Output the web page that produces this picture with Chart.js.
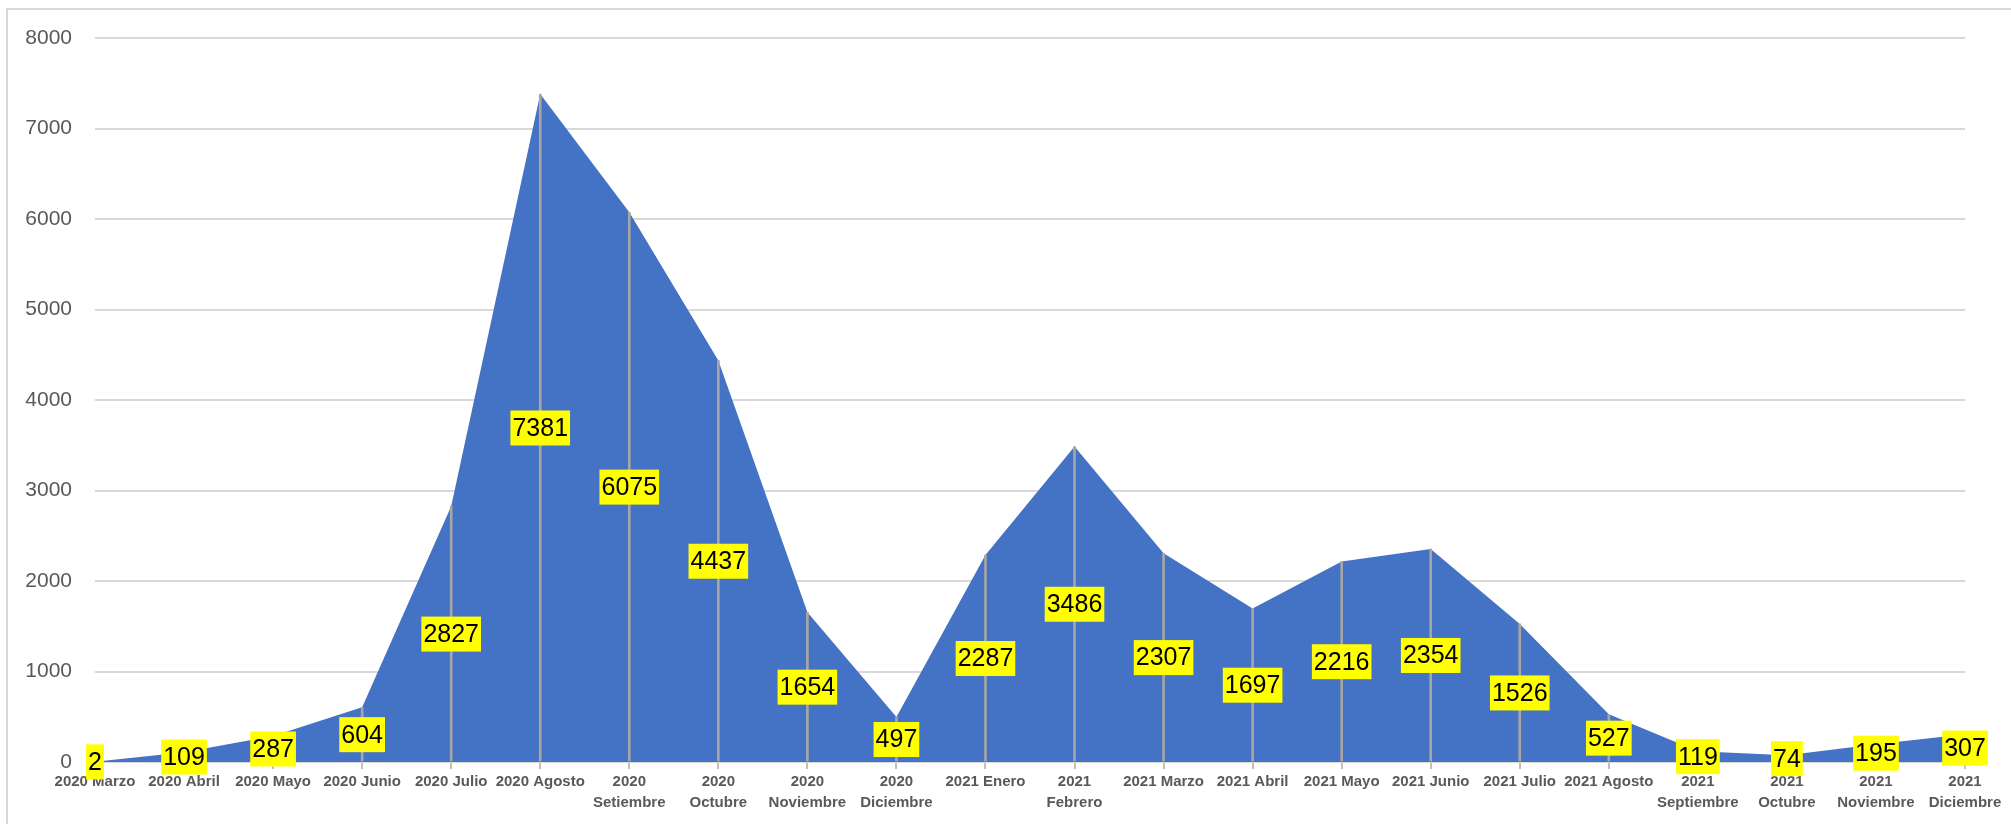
<!DOCTYPE html>
<html>
<head>
    <title>Casos por mes</title>
    <script src="https://cdn.jsdelivr.net/npm/chart.js"></script>
    <style>
        html, body { margin: 0; padding: 0; background: #fff; }
        .frame {
            position: absolute;
            left: 6px; top: 8px;
            width: 2100px; height: 900px;
            border-left: 2px solid #d9d9d9;
            border-top: 2px solid #d9d9d9;
        }
        .wrap { position: absolute; left: 0; top: 0; width: 2011px; height: 824px; }
    </style>
</head>
<body>
    <div class="frame"></div>
    <div class="wrap"><canvas id="casos"></canvas></div>

<script>
    // categorias (meses) y valores
    const meses = [
        '2020 Marzo', '2020 Abril', '2020 Mayo', '2020 Junio', '2020 Julio', '2020 Agosto',
        ['2020', 'Setiembre'], ['2020', 'Octubre'], ['2020', 'Noviembre'], ['2020', 'Diciembre'],
        '2021 Enero', ['2021', 'Febrero'], '2021 Marzo', '2021 Abril', '2021 Mayo', '2021 Junio',
        '2021 Julio', '2021 Agosto', ['2021', 'Septiembre'], ['2021', 'Octubre'],
        ['2021', 'Noviembre'], ['2021', 'Diciembre']
    ];
    const casos = [2, 109, 287, 604, 2827, 7381, 6075, 4437, 1654, 497,
                   2287, 3486, 2307, 1697, 2216, 2354, 1526, 527, 119, 74, 195, 307];
    const yTicks = [0, 1000, 2000, 3000, 4000, 5000, 6000, 7000, 8000];

    // etiquetas amarillas centradas en la mitad del area
    const etiquetas = {
        id: 'etiquetas',
        afterDatasetsDraw(chart) {
            const ctx = chart.ctx;
            const xs = chart.scales.x, ys = chart.scales.y;
            ctx.save();
            ctx.font = '25px "Liberation Sans", Arial, sans-serif';
            ctx.textAlign = 'center';
            ctx.textBaseline = 'middle';
            casos.forEach((v, i) => {
                const x = xs.getPixelForValue(i);
                const y = ys.getPixelForValue(v / 2);
                const txt = String(v);
                const w = ctx.measureText(txt).width + 4;
                const h = 35;
                ctx.fillStyle = '#ffff00';
                ctx.fillRect(x - w / 2, y - h / 2, w, h);
                ctx.fillStyle = '#000';
                ctx.fillText(txt, x, y + 1);
            });
            ctx.restore();
        }
    };

    new Chart(document.getElementById('casos'), {
        data: {
            labels: meses,
            datasets: [
                {
                    type: 'bar',
                    data: casos,
                    backgroundColor: '#a6a6a6',
                    barThickness: 2,
                    order: 1
                },
                {
                    type: 'line',
                    data: casos,
                    borderWidth: 0,
                    borderColor: '#4472c4',
                    backgroundColor: '#4472c4',
                    fill: 'origin',
                    pointRadius: 0,
                    tension: 0,
                    order: 2
                }
            ]
        },
        options: {
            responsive: true,
            maintainAspectRatio: false,
            animation: false,
            layout: { padding: { top: 38, right: 46, left: 0, bottom: 0 } },
            plugins: {
                legend: { display: false },
                tooltip: { enabled: false }
            },
            scales: {
                x: {
                    offset: false,
                    grid: {
                        offset: false,
                        drawOnChartArea: false,
                        drawTicks: true,
                        tickLength: 7,
                        color: '#bfbfbf',
                        lineWidth: 2
                    },
                    border: { color: '#d9d9d9', width: 2 },
                    ticks: {
                        autoSkip: false,
                        maxRotation: 0,
                        padding: 2,
                        color: '#595959',
                        font: { family: '"Liberation Sans", Arial, sans-serif', size: 15, weight: 'bold', lineHeight: 1.4 }
                    },
                    afterFit(scale) { scale.height = 62; }
                },
                y: {
                    min: 0,
                    max: 8000,
                    afterBuildTicks(scale) { scale.ticks = yTicks.map(v => ({ value: v })); },
                    grid: { color: '#d9d9d9', lineWidth: 2, drawTicks: false },
                    border: { display: false },
                    ticks: {
                        padding: 23,
                        color: '#595959',
                        font: { family: '"Liberation Sans", Arial, sans-serif', size: 21 },
                        callback: (v) => String(v)
                    },
                    afterFit(scale) { scale.width = 95; }
                }
            }
        },
        plugins: [etiquetas]
    });
</script>
</body>
</html>
